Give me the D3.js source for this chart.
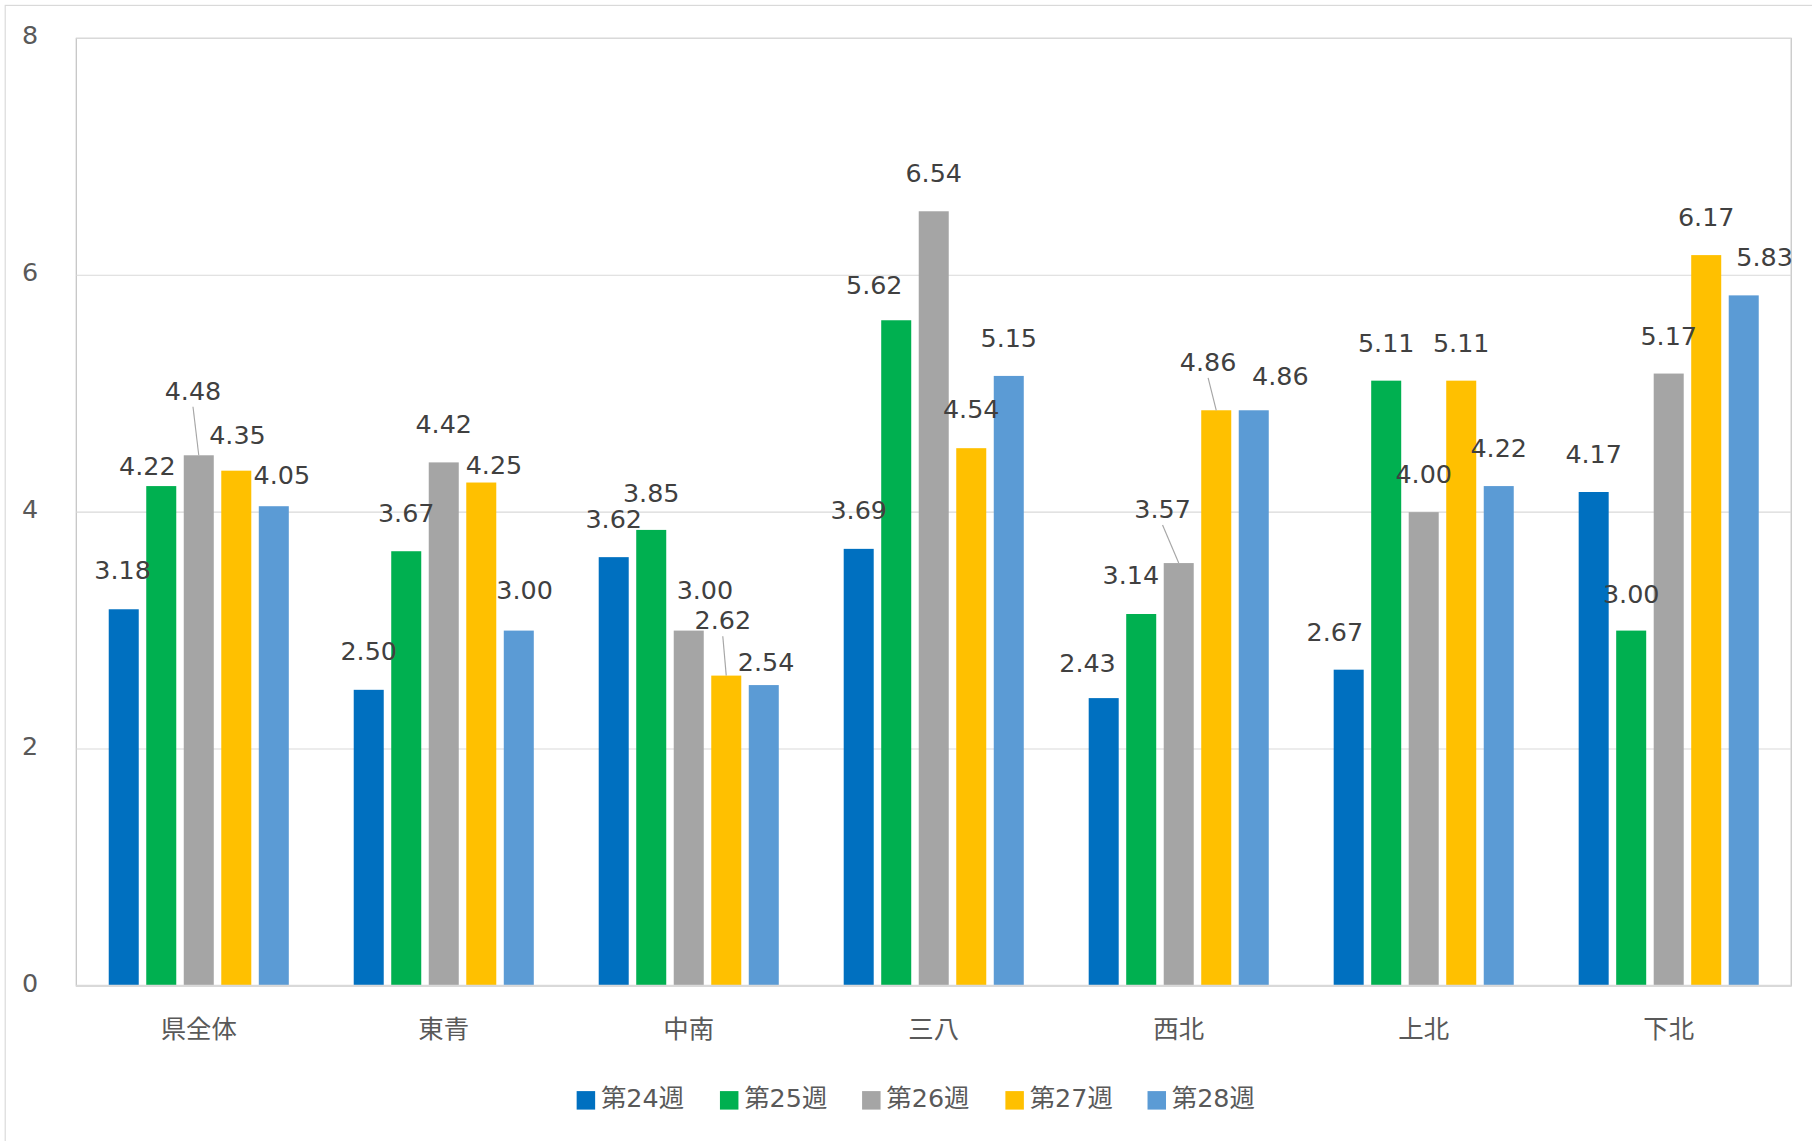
<!DOCTYPE html>
<html><head><meta charset="utf-8">
<script src="https://cdn.jsdelivr.net/npm/d3@7"></script>
<style>body{margin:0;background:#fff}text{font-family:Verdana,"DejaVu Sans","Noto Sans CJK JP",sans-serif}</style>
</head><body>
<svg id="c" width="1812" height="1141" viewBox="0 0 1568 987"></svg>
<script>
const categories=["県全体","東青","中南","三八","西北","上北","下北"];
const seriesNames=["第24週","第25週","第26週","第27週","第28週"];
const colors=["#0070C0","#00B050","#A5A5A5","#FFC000","#5B9BD5"];
const w24=[3.18,2.50,3.62,3.69,2.43,2.67,4.17];
const w25=[4.22,3.67,3.85,5.62,3.14,5.11,3.00];
const w26=[4.48,4.42,3.00,6.54,3.57,4.00,5.17];
const w27=[4.35,4.25,2.62,4.54,4.86,5.11,6.17];
const w28=[4.05,3.00,2.54,5.15,4.86,4.22,5.83];
const yTicks=[0,2,4,6,8];
// label offsets [dx,dy] per category, per series (styling)
const labelOff=[
 [[-1,-34],[-12,-18],[-5,-56],[1,-31],[7,-27]],
 [[0,-34],[0,-33],[0,-33],[11,-15],[5,-35]],
 [[0,-33],[0,-32],[14,-35],[-3,-48],[2,-20]],
 [[0,-34],[-19,-31],[0,-33],[0,-34],[0,-33]],
 [[-14,-31],[-9,-34],[-14,-47],[-7,-42],[23,-30]],
 [[-12,-33],[0,-33],[0,-33],[0,-33],[0,-33]],
 [[0,-33],[0,-32],[0,-33],[0,-33],[18,-33]]];
const series=[w24,w25,w26,w27,w28];
const svg=d3.select("#c");
svg.append("rect").attr("x",4.5).attr("y",4.5).attr("width",1580).attr("height",1000).attr("fill","none").attr("stroke","#D9D9D9");
const L=66,R=1550,T=33,B=853;
const x=d3.scaleBand().domain(categories).range([L,R]).paddingInner(0.265).paddingOuter(0.1325);
const xs=d3.scaleBand().domain(d3.range(5)).range([0,x.bandwidth()]).paddingInner(0.2);
const y=d3.scaleLinear().domain([0,8]).range([B,T]);
svg.append("rect").attr("x",L).attr("y",T).attr("width",R-L).attr("height",B-T).attr("fill","none").attr("stroke","#BFBFBF");
svg.selectAll(".g").data(yTicks).join("line").attr("x1",L).attr("x2",R).attr("y1",d=>y(d)).attr("y2",d=>y(d)).attr("stroke","#D9D9D9");
svg.selectAll(".yt").data(yTicks).join("text").attr("x",26).attr("y",d=>y(d)+5).attr("text-anchor","middle").attr("font-size",22).attr("fill","#595959").text(d=>d);
const labels=svg.append("g");
const bars=svg.insert("g","g");
categories.forEach((c,ci)=>{
  series.forEach((s,si)=>{
    const bx=x(c)+xs(si), v=s[ci], top=y(v), cx=bx+xs.bandwidth()/2;
    bars.append("rect").attr("x",bx).attr("y",top).attr("width",xs.bandwidth()).attr("height",B-top).attr("fill",colors[si]);
    const [dx,dy]=labelOff[ci][si];
    const lx=cx+dx, ly=top+dy;
    if(dy<-40) labels.append("line").attr("x1",lx).attr("y1",ly+14).attr("x2",cx).attr("y2",top).attr("stroke","#A6A6A6");
    labels.append("text").attr("x",lx).attr("y",ly+8).attr("text-anchor","middle").attr("font-size",22).attr("fill","#404040").text(v.toFixed(2));
  });
  svg.append("text").attr("x",x(c)+x.bandwidth()/2).attr("y",898).attr("text-anchor","middle").attr("font-size",22).attr("fill","#595959").text(c);
});
svg.append("line").attr("x1",L).attr("x2",R).attr("y1",B).attr("y2",B).attr("stroke","#D9D9D9").attr("stroke-width",2);
labels.raise();
const lg=[499,623,746,870,993];
seriesNames.forEach((n,i)=>{
  svg.append("rect").attr("x",lg[i]).attr("y",944).attr("width",16).attr("height",16).attr("fill",colors[i]);
  svg.append("text").attr("x",lg[i]+21).attr("y",958).attr("font-size",22).attr("fill","#595959").text(n);
});
</script></body></html>
